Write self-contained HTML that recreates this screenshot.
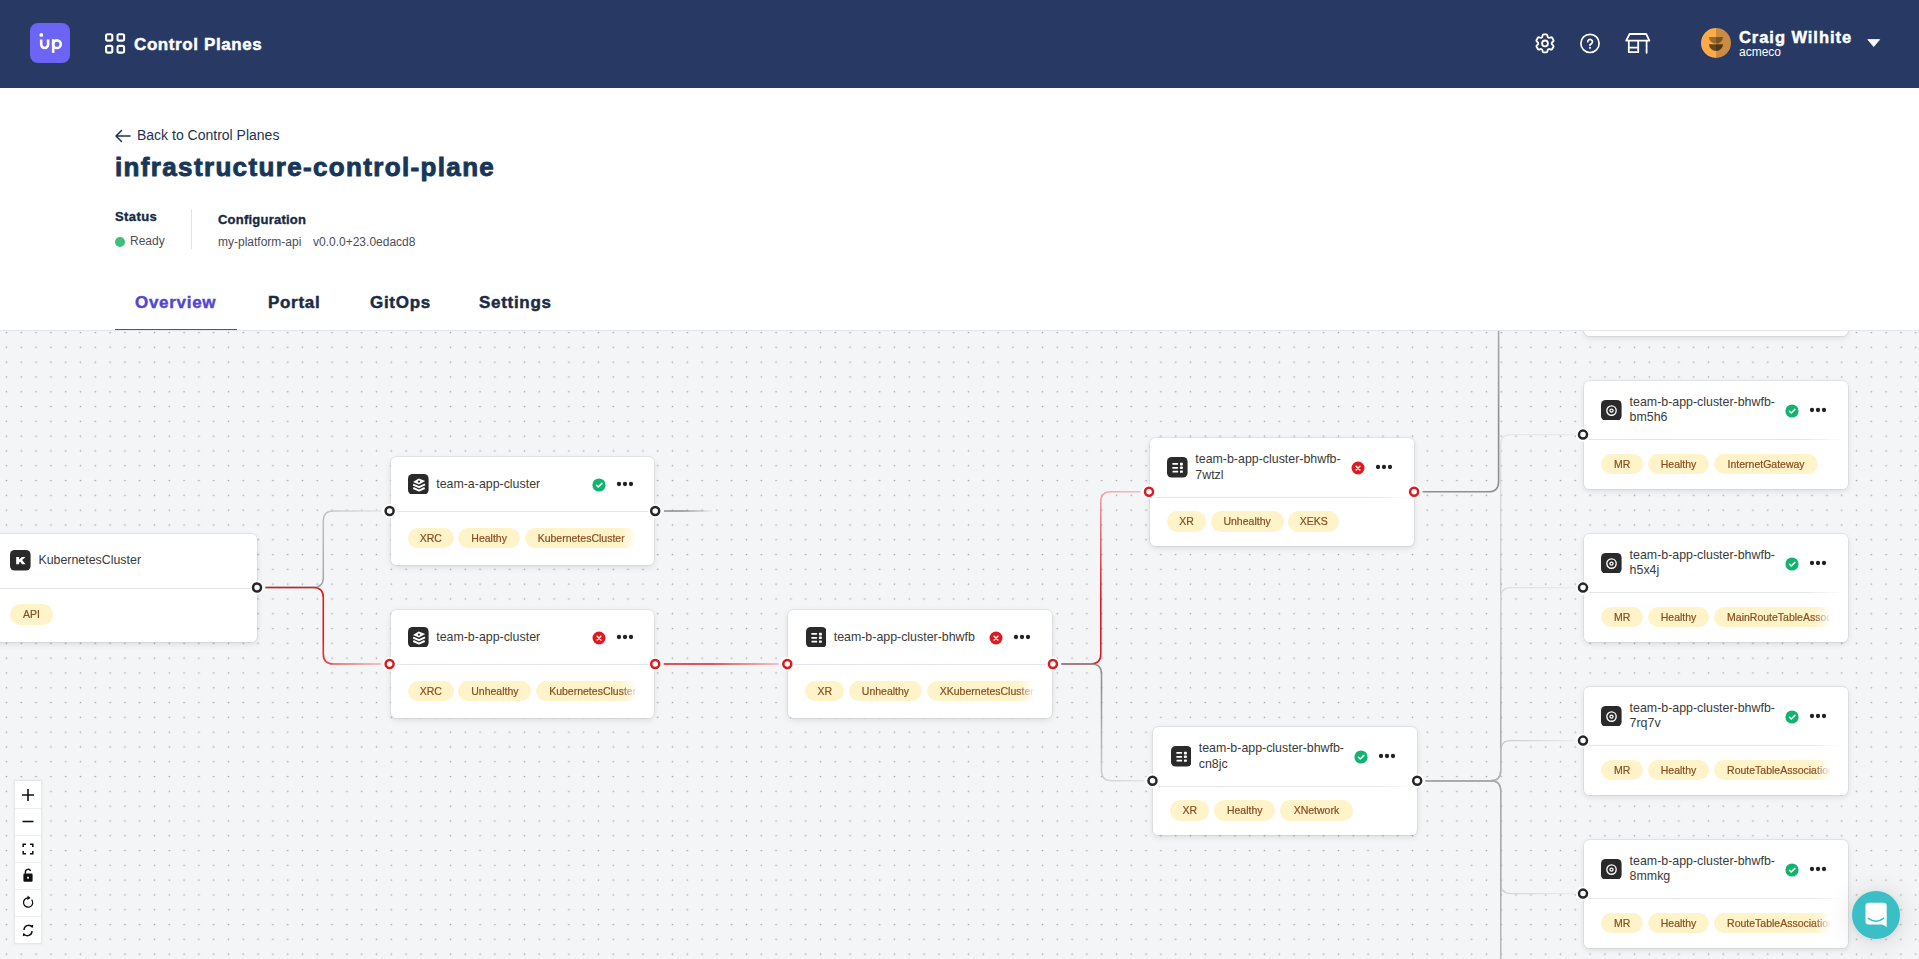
<!DOCTYPE html>
<html><head><meta charset="utf-8">
<style>
*{box-sizing:border-box;margin:0;padding:0}
html,body{width:1919px;height:959px;overflow:hidden;background:#fff;font-family:"Liberation Sans",sans-serif}
.abs{position:absolute;white-space:nowrap}
#hdr{position:absolute;left:0;top:0;width:1919px;height:88px;background:#283a64}
#logo{left:30px;top:23px;width:40px;height:40px;border-radius:8px;background:#6c64f4}
.htxt{color:#fff;font-weight:bold;white-space:nowrap;-webkit-text-stroke:0.45px #fff}
#canvas{position:absolute;left:0;top:331px;width:1919px;height:628px;background:#f4f5f7;overflow:hidden}
#cborder{left:0;top:330px;width:1919px;height:1px;background:#e3e5ea}
.tab{font-size:17px;font-weight:bold;letter-spacing:0.7px;color:#1a2b45;-webkit-text-stroke:0.45px currentColor;line-height:20px;top:293px!important}

.card{position:absolute;width:263.8px;height:108px;background:#fff;border-radius:5.5px;box-shadow:0 0 0 1px rgba(0,0,0,0.05),0 2px 6px rgba(0,0,0,0.11)}
.card .ico{position:absolute;width:20.6px;height:20.6px}
.card .ico svg,.card .st svg,.card .dots svg{display:block}
.card .ttl{position:absolute;font-size:12.4px;line-height:15.3px;color:#3a3a3a;white-space:nowrap}
.card .st{position:absolute;width:14px;height:14px}
.card .dots{position:absolute;width:18px;height:6px}
.card .div{position:absolute;left:0;width:263.8px;height:1px;background:#e2e5ec}
.card .div.fade{left:5px;width:254px;background:linear-gradient(90deg,#e2e5ec 85%,rgba(226,229,236,0))}
.card .pills{position:absolute;left:17.3px;width:230px;height:21px;white-space:nowrap;overflow:hidden;-webkit-mask-image:linear-gradient(90deg,#000 calc(100% - 17px),transparent 100%);mask-image:linear-gradient(90deg,#000 calc(100% - 17px),transparent 100%)}
.pill{display:inline-block;text-align:center;height:20.4px;line-height:20.4px;padding:0 13px;margin-right:4.8px;border-radius:10.2px;background:#fef3c9;color:#8b4d1f;font-size:10.5px;-webkit-text-stroke:0.2px #8b4d1f;vertical-align:top}
</style></head><body>
<div id="hdr">
  <div id="logo" class="abs"></div>
  <svg class="abs" style="left:0;top:0" width="1919" height="88" fill="none" stroke="#fff">
    <!-- logo glyph -->
    <circle cx="41.3" cy="34.9" r="1.9" fill="#fff" stroke="none"/>
    <path d="M41.2 39.4V44.6A3.45 3.45 0 0 0 48.1 44.6V39.4" stroke-width="2.6"/>
    <path d="M53.2 39.2V52.8" stroke-width="2.6"/>
    <circle cx="56.9" cy="44.2" r="3.85" stroke-width="2.6"/>
    <!-- grid icon -->
    <rect x="106.1" y="34.2" width="6.2" height="6.4" rx="1.6" stroke-width="2.1"/>
    <rect x="117.5" y="34.2" width="6.6" height="6.4" rx="1.6" stroke-width="2.1"/>
    <rect x="106.1" y="45.9" width="6.2" height="6.7" rx="1.6" stroke-width="2.1"/>
    <rect x="117.5" y="45.9" width="6.6" height="6.7" rx="1.6" stroke-width="2.1"/>
    <!-- gear -->
    <g transform="translate(1533 31.4)" stroke-width="1.85" stroke-linecap="round" stroke-linejoin="round">
      <path d="M9.594 3.94c.09-.542.56-.94 1.11-.94h2.593c.55 0 1.02.398 1.11.94l.213 1.281c.063.374.313.686.645.87.074.04.147.083.22.127.325.196.72.257 1.075.124l1.217-.456a1.125 1.125 0 0 1 1.37.49l1.296 2.247a1.125 1.125 0 0 1-.26 1.431l-1.003.827c-.293.241-.438.613-.43.992a7.723 7.723 0 0 1 0 .255c-.008.378.137.75.43.991l1.004.827c.424.35.534.955.26 1.43l-1.298 2.247a1.125 1.125 0 0 1-1.369.491l-1.217-.456c-.355-.133-.75-.072-1.076.124a6.47 6.47 0 0 1-.22.128c-.331.183-.581.495-.644.869l-.213 1.281c-.09.543-.56.94-1.110.94h-2.594c-.55 0-1.019-.398-1.11-.94l-.213-1.281c-.062-.374-.312-.686-.644-.87a6.52 6.52 0 0 1-.22-.127c-.325-.196-.72-.257-1.076-.124l-1.217.456a1.125 1.125 0 0 1-1.369-.49l-1.297-2.247a1.125 1.125 0 0 1 .26-1.431l1.004-.827c.292-.24.437-.613.43-.991a6.932 6.932 0 0 1 0-.255c.007-.38-.138-.751-.43-.992l-1.004-.827a1.125 1.125 0 0 1-.26-1.43l1.297-2.247a1.125 1.125 0 0 1 1.37-.491l1.216.456c.356.133.751.072 1.076-.124.072-.044.146-.086.22-.128.332-.183.582-.495.644-.869l.214-1.28Z"/>
      <circle cx="12" cy="12" r="2.9"/>
    </g>
    <!-- help -->
    <g transform="translate(1578 31.4)" stroke-width="1.7" stroke-linecap="round" stroke-linejoin="round">
      <path d="M9.75 10.4A2.35 2.35 0 1 1 13.4 12.3Q12 13 12 13.9V13.3"/>
      <circle cx="12" cy="12" r="9.1"/>
      <rect x="11.05" y="15.5" width="1.9" height="1.75" rx="0.3" fill="#fff" stroke="none"/>
    </g>
    <!-- store -->
    <g stroke-width="1.8" stroke-linejoin="round" stroke-linecap="round">
      <path d="M1629.6 34H1646.2L1649.4 40.6H1626.2Z"/>
      <path d="M1628.8 41.2V52.2H1638.2V41.2M1628.8 47.6H1638.2M1646.6 41.2V52.8"/>
    </g>
    <!-- avatar -->
    <clipPath id="avc"><circle cx="1716" cy="43" r="15"/></clipPath>
    <g clip-path="url(#avc)" stroke="none">
      <rect x="1700" y="27" width="16" height="32" fill="#fdaa4b"/>
      <rect x="1716" y="27" width="16" height="32" fill="#c98c40"/>
      <path d="M1709 37H1716V43.6A7 6.6 0 0 1 1709 37Z" fill="#98692c"/>
      <path d="M1716 37H1723A7 6.6 0 0 1 1716 43.6Z" fill="#7b5424"/>
      <path d="M1709 44.2H1716V51A7 6.8 0 0 1 1709 44.2Z" fill="#67461d"/>
      <path d="M1716 44.2H1723A7 6.8 0 0 1 1716 51Z" fill="#4e3516"/>
    </g>
    <!-- caret -->
    <path d="M1867.8 39.6H1879.6L1873.7 46.6Z" fill="#fff" stroke="#fff" stroke-width="0.8" stroke-linejoin="round"/>
  </svg>
  <div class="abs htxt" style="left:134px;top:35px;font-size:17px;letter-spacing:0.6px">Control Planes</div>
  <div class="abs htxt" style="left:1739px;top:28px;font-size:16.5px;letter-spacing:0.95px">Craig Wilhite</div>
  <div class="abs" style="left:1739px;top:45px;font-size:12px;color:#fff">acmeco</div>
</div>

<!-- page top -->
<svg class="abs" style="left:114px;top:128px" width="18" height="16" fill="none" stroke="#1c3353" stroke-width="1.5" stroke-linecap="round" stroke-linejoin="round"><path d="M16 8H2M7.5 2.5L2 8L7.5 13.5"/></svg>
<div class="abs" style="left:137px;top:127px;font-size:14px;color:#1c3353">Back to Control Planes</div>
<div class="abs" style="left:115px;top:152px;font-size:26px;font-weight:bold;letter-spacing:1.35px;color:#173659;-webkit-text-stroke:0.9px #173659">infrastructure-control-plane</div>

<div class="abs" style="left:115px;top:209px;font-size:13px;font-weight:bold;letter-spacing:0.4px;color:#152a45;-webkit-text-stroke:0.35px #152a45">Status</div>
<div class="abs" style="left:115px;top:237px;width:10px;height:10px;border-radius:50%;background:#3ec07a"></div>
<div class="abs" style="left:130px;top:234px;font-size:12px;color:#4d4d58">Ready</div>
<div class="abs" style="left:191px;top:209px;width:1px;height:40px;background:#e2e2e2"></div>
<div class="abs" style="left:218px;top:212px;font-size:13px;font-weight:bold;letter-spacing:0.23px;color:#152a45;-webkit-text-stroke:0.35px #152a45">Configuration</div>
<div class="abs" style="left:218px;top:235px;font-size:12px;color:#4d4d58">my-platform-api</div>
<div class="abs" style="left:313px;top:235px;font-size:12px;color:#4d4d58">v0.0.0+23.0edacd8</div>

<div class="abs tab" style="left:135px;top:292px;color:#5148cf">Overview</div>
<div class="abs tab" style="left:268px;top:292px">Portal</div>
<div class="abs tab" style="left:370px;top:292px">GitOps</div>
<div class="abs tab" style="left:479px;top:292px">Settings</div>
<div class="abs" style="left:115px;top:329px;width:122px;height:1px;background:#5148cf"></div>

<div id="cborder" class="abs"></div>
<div id="canvas"><svg class="abs" style="left:0;top:0" width="1919" height="628"><defs><pattern id="dots" patternUnits="userSpaceOnUse" x="-0.9" y="-5.9" width="14.8" height="14.8"><circle cx="7.4" cy="7.4" r="0.85" fill="#a9a9ad"/></pattern></defs><rect width="1919" height="628" fill="url(#dots)"/></svg><svg class="abs" style="left:0;top:0" width="1919" height="628"><defs><linearGradient id="g0" gradientUnits="userSpaceOnUse" x1="265.5" y1="587.5" x2="381.1" y2="511.0"><stop offset="0" stop-color="#9a9a9a" stop-opacity="1"/><stop offset="0.25" stop-color="#9a9a9a" stop-opacity="1"/><stop offset="1" stop-color="#e6e6e6" stop-opacity="1"/></linearGradient><linearGradient id="g1" gradientUnits="userSpaceOnUse" x1="265.5" y1="587.5" x2="381.1" y2="664.0"><stop offset="0" stop-color="#dc1a1f" stop-opacity="1"/><stop offset="0.55" stop-color="#dc1a1f" stop-opacity="1"/><stop offset="1" stop-color="#f3b3b5" stop-opacity="1"/></linearGradient><linearGradient id="g2" gradientUnits="userSpaceOnUse" x1="663.7" y1="664.0" x2="778.8" y2="664.0"><stop offset="0" stop-color="#dc1a1f" stop-opacity="1"/><stop offset="0.40" stop-color="#dc1a1f" stop-opacity="1"/><stop offset="1" stop-color="#f2b3b5" stop-opacity="1"/></linearGradient><linearGradient id="g3" gradientUnits="userSpaceOnUse" x1="664.0" y1="511.0" x2="714.0" y2="511.0"><stop offset="0" stop-color="#8a8a8a" stop-opacity="1"/><stop offset="0.35" stop-color="#8a8a8a" stop-opacity="1"/><stop offset="1" stop-color="#8a8a8a" stop-opacity="0"/></linearGradient><linearGradient id="g4" gradientUnits="userSpaceOnUse" x1="1061.4" y1="664.0" x2="1140.5" y2="491.8"><stop offset="0" stop-color="#dc1a1f" stop-opacity="1"/><stop offset="0.40" stop-color="#dc1a1f" stop-opacity="1"/><stop offset="1" stop-color="#f4bcbd" stop-opacity="1"/></linearGradient><linearGradient id="g5" gradientUnits="userSpaceOnUse" x1="1061.4" y1="664.0" x2="1144.0" y2="780.7"><stop offset="0" stop-color="#8f8f8f" stop-opacity="1"/><stop offset="0.30" stop-color="#8f8f8f" stop-opacity="1"/><stop offset="1" stop-color="#e6e6e6" stop-opacity="1"/></linearGradient><linearGradient id="g6" gradientUnits="userSpaceOnUse" x1="1422.6" y1="491.8" x2="1574.5" y2="281.0"><stop offset="0" stop-color="#8f8f8f" stop-opacity="1"/><stop offset="0.40" stop-color="#8f8f8f" stop-opacity="1"/><stop offset="1" stop-color="#c8c8c8" stop-opacity="1"/></linearGradient><linearGradient id="g7" gradientUnits="userSpaceOnUse" x1="1425.7" y1="780.7" x2="1574.5" y2="434.6"><stop offset="0" stop-color="#a8a8a8" stop-opacity="0.75"/><stop offset="0.30" stop-color="#a8a8a8" stop-opacity="0.75"/><stop offset="1" stop-color="#ebebeb" stop-opacity="0.9"/></linearGradient><linearGradient id="g8" gradientUnits="userSpaceOnUse" x1="1425.7" y1="780.7" x2="1574.5" y2="587.6"><stop offset="0" stop-color="#a8a8a8" stop-opacity="0.75"/><stop offset="0.30" stop-color="#a8a8a8" stop-opacity="0.75"/><stop offset="1" stop-color="#ebebeb" stop-opacity="0.9"/></linearGradient><linearGradient id="g9" gradientUnits="userSpaceOnUse" x1="1425.7" y1="780.7" x2="1574.5" y2="740.6"><stop offset="0" stop-color="#a8a8a8" stop-opacity="0.75"/><stop offset="0.30" stop-color="#a8a8a8" stop-opacity="0.75"/><stop offset="1" stop-color="#ebebeb" stop-opacity="0.9"/></linearGradient><linearGradient id="g10" gradientUnits="userSpaceOnUse" x1="1425.7" y1="780.7" x2="1574.5" y2="893.6"><stop offset="0" stop-color="#a8a8a8" stop-opacity="0.75"/><stop offset="0.30" stop-color="#a8a8a8" stop-opacity="0.75"/><stop offset="1" stop-color="#ebebeb" stop-opacity="0.9"/></linearGradient><linearGradient id="g11" gradientUnits="userSpaceOnUse" x1="1425.7" y1="780.7" x2="1574.5" y2="1046.6"><stop offset="0" stop-color="#a8a8a8" stop-opacity="0.75"/><stop offset="0.30" stop-color="#a8a8a8" stop-opacity="0.75"/><stop offset="1" stop-color="#ebebeb" stop-opacity="0.9"/></linearGradient><linearGradient id="g12" gradientUnits="userSpaceOnUse" x1="1425.7" y1="780.7" x2="1574.5" y2="1199.6"><stop offset="0" stop-color="#a8a8a8" stop-opacity="0.75"/><stop offset="0.30" stop-color="#a8a8a8" stop-opacity="0.75"/><stop offset="1" stop-color="#ebebeb" stop-opacity="0.9"/></linearGradient></defs><g transform="translate(0 -331)"><path d="M265.5 587.5H313.3Q323.3 587.5 323.3 577.5V521.0Q323.3 511.0 333.3 511.0H381.1" stroke="url(#g0)" stroke-width="1.50" fill="none"/><path d="M265.5 587.5H313.3Q323.3 587.5 323.3 597.5V654.0Q323.3 664.0 333.3 664.0H381.1" stroke="url(#g1)" stroke-width="1.60" fill="none"/><path d="M663.7 664.0H778.8" stroke="url(#g2)" stroke-width="1.60" fill="none"/><path d="M664.0 511.0H714.0" stroke="url(#g3)" stroke-width="1.60" fill="none"/><path d="M1061.4 664.0H1090.8Q1100.8 664.0 1100.8 654.0V501.8Q1100.8 491.8 1110.8 491.8H1140.5" stroke="url(#g4)" stroke-width="1.60" fill="none"/><path d="M1061.4 664.0H1091.5Q1101.5 664.0 1101.5 674.0V770.7Q1101.5 780.7 1111.5 780.7H1144.0" stroke="url(#g5)" stroke-width="1.50" fill="none"/><path d="M1422.6 491.8H1488.6Q1498.6 491.8 1498.6 481.8V291.0Q1498.6 281.0 1508.6 281.0H1574.5" stroke="url(#g6)" stroke-width="1.60" fill="none"/><path d="M1425.7 780.7H1490.7Q1500.7 780.7 1500.7 770.7V444.6Q1500.7 434.6 1510.7 434.6H1574.5" stroke="url(#g7)" stroke-width="1.40" fill="none"/><path d="M1425.7 780.7H1490.7Q1500.7 780.7 1500.7 770.7V597.6Q1500.7 587.6 1510.7 587.6H1574.5" stroke="url(#g8)" stroke-width="1.40" fill="none"/><path d="M1425.7 780.7H1490.7Q1500.7 780.7 1500.7 770.7V750.6Q1500.7 740.6 1510.7 740.6H1574.5" stroke="url(#g9)" stroke-width="1.40" fill="none"/><path d="M1425.7 780.7H1490.7Q1500.7 780.7 1500.7 790.7V883.6Q1500.7 893.6 1510.7 893.6H1574.5" stroke="url(#g10)" stroke-width="1.40" fill="none"/><path d="M1425.7 780.7H1490.7Q1500.7 780.7 1500.7 790.7V1036.6Q1500.7 1046.6 1510.7 1046.6H1574.5" stroke="url(#g11)" stroke-width="1.40" fill="none"/><path d="M1425.7 780.7H1490.7Q1500.7 780.7 1500.7 790.7V1189.6Q1500.7 1199.6 1510.7 1199.6H1574.5" stroke="url(#g12)" stroke-width="1.40" fill="none"/></g></svg><div class="abs" style="left:0;top:-331px;width:1919px;height:959px"><div class="card" style="left:-7.1px;top:533.8px"><div class="ico" style="left:17.4px;top:16.6px"><svg width="20.6" height="20.6" viewBox="0 0 20 20"><rect width="20" height="20" rx="4.5" fill="#2a2a2a"/><path d="M6 6.7H8.9V9.3L11.6 6.7H15.1L11.8 9.8L15.1 13.9H11.7L9.9 11.3L8.9 12.2V13.9H6Z" fill="#fff"/></svg></div><div class="ttl" style="left:45.5px;top:19.6px">KubernetesCluster</div><div class="div " style="top:54.0px"></div><div class="pills" style="top:70.6px"><span class="pill" style="width:42.3px;padding:0">API</span></div></div><div class="card" style="left:390.7px;top:457.0px"><div class="ico" style="left:17.4px;top:16.6px"><svg width="20.6" height="20.6" viewBox="0 0 20 20"><rect width="20" height="20" rx="4.5" fill="#2a2a2a"/><path d="M4.9 7.8L10.4 4.4L16.7 6.8L10.7 10.1Z" fill="#fff"/><circle cx="10.6" cy="7.3" r="1.1" fill="#2a2a2a"/><path d="M5 10.3L10.7 12.8L16.6 10" stroke="#fff" stroke-width="1.9" fill="none" stroke-linejoin="round"/><path d="M5.1 13.6L10.7 16.1L16.2 13.6" stroke="#fff" stroke-width="1.9" fill="none" stroke-linejoin="round"/></svg></div><div class="ttl" style="left:45.5px;top:19.6px">team-a-app-cluster</div><div class="st" style="left:201px;top:21.0px"><svg width="14" height="14" viewBox="0 0 14 14"><circle cx="7" cy="7" r="6.6" fill="#10b46f"/><path d="M4.5 7.3L6.2 9L9.9 5.4" stroke="#fff" stroke-width="1.5" fill="none" stroke-linecap="round" stroke-linejoin="round"/></svg></div><div class="dots" style="left:225px;top:24.0px"><svg width="18" height="6" viewBox="0 0 18 6"><circle cx="3" cy="3" r="2.15" fill="#222"/><circle cx="9" cy="3" r="2.15" fill="#222"/><circle cx="15" cy="3" r="2.15" fill="#222"/></svg></div><div class="div " style="top:54.0px"></div><div class="pills" style="top:70.6px"><span class="pill" style="width:45.6px;padding:0">XRC</span><span class="pill" style="width:61.5px;padding:0">Healthy</span><span class="pill">KubernetesCluster</span></div></div><div class="card" style="left:390.7px;top:610.0px"><div class="ico" style="left:17.4px;top:16.6px"><svg width="20.6" height="20.6" viewBox="0 0 20 20"><rect width="20" height="20" rx="4.5" fill="#2a2a2a"/><path d="M4.9 7.8L10.4 4.4L16.7 6.8L10.7 10.1Z" fill="#fff"/><circle cx="10.6" cy="7.3" r="1.1" fill="#2a2a2a"/><path d="M5 10.3L10.7 12.8L16.6 10" stroke="#fff" stroke-width="1.9" fill="none" stroke-linejoin="round"/><path d="M5.1 13.6L10.7 16.1L16.2 13.6" stroke="#fff" stroke-width="1.9" fill="none" stroke-linejoin="round"/></svg></div><div class="ttl" style="left:45.5px;top:19.6px">team-b-app-cluster</div><div class="st" style="left:201px;top:21.0px"><svg width="14" height="14" viewBox="0 0 14 14"><circle cx="7" cy="7" r="6.5" fill="#dc1a1f"/><path d="M5.1 5.2L8.9 8.9M8.9 5.2L5.1 8.9" stroke="#fff" stroke-width="1.4" fill="none" stroke-linecap="round"/></svg></div><div class="dots" style="left:225px;top:24.0px"><svg width="18" height="6" viewBox="0 0 18 6"><circle cx="3" cy="3" r="2.15" fill="#222"/><circle cx="9" cy="3" r="2.15" fill="#222"/><circle cx="15" cy="3" r="2.15" fill="#222"/></svg></div><div class="div " style="top:54.0px"></div><div class="pills" style="top:70.6px"><span class="pill" style="width:45.6px;padding:0">XRC</span><span class="pill" style="width:73.0px;padding:0">Unhealthy</span><span class="pill">KubernetesCluster</span></div></div><div class="card" style="left:788.2px;top:610.0px"><div class="ico" style="left:17.4px;top:16.6px"><svg width="20.6" height="20.6" viewBox="0 0 20 20"><rect width="20" height="20" rx="4.5" fill="#2a2a2a"/><rect x="5.1" y="5.8" width="5.7" height="1.7" rx="0.6" fill="#fff"/><rect x="5.1" y="9.6" width="5.7" height="1.7" rx="0.6" fill="#fff"/><rect x="5.4" y="13.3" width="5.4" height="1.7" rx="0.3" fill="#fff"/><rect x="12.6" y="5.6" width="2.8" height="2.6" rx="0.6" fill="#fff"/><rect x="12.6" y="9.3" width="2.8" height="2.4" rx="0.7" fill="#fff"/><rect x="12.6" y="13.1" width="2.8" height="2.1" rx="0.5" fill="#fff"/></svg></div><div class="ttl" style="left:45.5px;top:19.6px">team-b-app-cluster-bhwfb</div><div class="st" style="left:201px;top:21.0px"><svg width="14" height="14" viewBox="0 0 14 14"><circle cx="7" cy="7" r="6.5" fill="#dc1a1f"/><path d="M5.1 5.2L8.9 8.9M8.9 5.2L5.1 8.9" stroke="#fff" stroke-width="1.4" fill="none" stroke-linecap="round"/></svg></div><div class="dots" style="left:225px;top:24.0px"><svg width="18" height="6" viewBox="0 0 18 6"><circle cx="3" cy="3" r="2.15" fill="#222"/><circle cx="9" cy="3" r="2.15" fill="#222"/><circle cx="15" cy="3" r="2.15" fill="#222"/></svg></div><div class="div " style="top:54.0px"></div><div class="pills" style="top:70.6px"><span class="pill" style="width:38.7px;padding:0">XR</span><span class="pill" style="width:73.0px;padding:0">Unhealthy</span><span class="pill">XKubernetesCluster</span></div></div><div class="card" style="left:1149.8px;top:438.0px"><div class="ico" style="left:17.4px;top:19.0px"><svg width="20.6" height="20.6" viewBox="0 0 20 20"><rect width="20" height="20" rx="4.5" fill="#2a2a2a"/><rect x="5.1" y="5.8" width="5.7" height="1.7" rx="0.6" fill="#fff"/><rect x="5.1" y="9.6" width="5.7" height="1.7" rx="0.6" fill="#fff"/><rect x="5.4" y="13.3" width="5.4" height="1.7" rx="0.3" fill="#fff"/><rect x="12.6" y="5.6" width="2.8" height="2.6" rx="0.6" fill="#fff"/><rect x="12.6" y="9.3" width="2.8" height="2.4" rx="0.7" fill="#fff"/><rect x="12.6" y="13.1" width="2.8" height="2.1" rx="0.5" fill="#fff"/></svg></div><div class="ttl" style="left:45.5px;top:14.3px">team-b-app-cluster-bhwfb-<br>7wtzl</div><div class="st" style="left:201px;top:23.3px"><svg width="14" height="14" viewBox="0 0 14 14"><circle cx="7" cy="7" r="6.5" fill="#dc1a1f"/><path d="M5.1 5.2L8.9 8.9M8.9 5.2L5.1 8.9" stroke="#fff" stroke-width="1.4" fill="none" stroke-linecap="round"/></svg></div><div class="dots" style="left:225px;top:26.4px"><svg width="18" height="6" viewBox="0 0 18 6"><circle cx="3" cy="3" r="2.15" fill="#222"/><circle cx="9" cy="3" r="2.15" fill="#222"/><circle cx="15" cy="3" r="2.15" fill="#222"/></svg></div><div class="div fade" style="top:58.5px"></div><div class="pills" style="top:73.2px"><span class="pill" style="width:38.7px;padding:0">XR</span><span class="pill" style="width:73.0px;padding:0">Unhealthy</span><span class="pill" style="width:50.9px;padding:0">XEKS</span></div></div><div class="card" style="left:1153.2px;top:727.0px"><div class="ico" style="left:17.4px;top:19.0px"><svg width="20.6" height="20.6" viewBox="0 0 20 20"><rect width="20" height="20" rx="4.5" fill="#2a2a2a"/><rect x="5.1" y="5.8" width="5.7" height="1.7" rx="0.6" fill="#fff"/><rect x="5.1" y="9.6" width="5.7" height="1.7" rx="0.6" fill="#fff"/><rect x="5.4" y="13.3" width="5.4" height="1.7" rx="0.3" fill="#fff"/><rect x="12.6" y="5.6" width="2.8" height="2.6" rx="0.6" fill="#fff"/><rect x="12.6" y="9.3" width="2.8" height="2.4" rx="0.7" fill="#fff"/><rect x="12.6" y="13.1" width="2.8" height="2.1" rx="0.5" fill="#fff"/></svg></div><div class="ttl" style="left:45.5px;top:14.3px">team-b-app-cluster-bhwfb-<br>cn8jc</div><div class="st" style="left:201px;top:23.3px"><svg width="14" height="14" viewBox="0 0 14 14"><circle cx="7" cy="7" r="6.6" fill="#10b46f"/><path d="M4.5 7.3L6.2 9L9.9 5.4" stroke="#fff" stroke-width="1.5" fill="none" stroke-linecap="round" stroke-linejoin="round"/></svg></div><div class="dots" style="left:225px;top:26.4px"><svg width="18" height="6" viewBox="0 0 18 6"><circle cx="3" cy="3" r="2.15" fill="#222"/><circle cx="9" cy="3" r="2.15" fill="#222"/><circle cx="15" cy="3" r="2.15" fill="#222"/></svg></div><div class="div fade" style="top:58.5px"></div><div class="pills" style="top:73.2px"><span class="pill" style="width:38.7px;padding:0">XR</span><span class="pill" style="width:61.5px;padding:0">Healthy</span><span class="pill" style="width:72.3px;padding:0">XNetwork</span></div></div><div class="card" style="left:1584.1px;top:227.8px"><div class="ico" style="left:17.4px;top:19.0px"><svg width="20.6" height="20.6" viewBox="0 0 20 20"><rect width="20" height="20" rx="4.5" fill="#2a2a2a"/><circle cx="10.2" cy="10.3" r="4.55" stroke="#fff" stroke-width="1.3" fill="none"/><circle cx="10.2" cy="10.3" r="1.55" stroke="#fff" stroke-width="1.2" fill="none"/></svg></div><div class="ttl" style="left:45.5px;top:14.3px">team-b-app-cluster-bhwfb-<br>xxxxx</div><div class="st" style="left:201px;top:23.3px"><svg width="14" height="14" viewBox="0 0 14 14"><circle cx="7" cy="7" r="6.6" fill="#10b46f"/><path d="M4.5 7.3L6.2 9L9.9 5.4" stroke="#fff" stroke-width="1.5" fill="none" stroke-linecap="round" stroke-linejoin="round"/></svg></div><div class="dots" style="left:225px;top:26.4px"><svg width="18" height="6" viewBox="0 0 18 6"><circle cx="3" cy="3" r="2.15" fill="#222"/><circle cx="9" cy="3" r="2.15" fill="#222"/><circle cx="15" cy="3" r="2.15" fill="#222"/></svg></div><div class="div fade" style="top:58.5px"></div><div class="pills" style="top:73.2px"><span class="pill" style="width:41.6px;padding:0">MR</span><span class="pill" style="width:61.5px;padding:0">Healthy</span><span class="pill">VPC</span></div></div><div class="card" style="left:1584.1px;top:380.8px"><div class="ico" style="left:17.4px;top:19.0px"><svg width="20.6" height="20.6" viewBox="0 0 20 20"><rect width="20" height="20" rx="4.5" fill="#2a2a2a"/><circle cx="10.2" cy="10.3" r="4.55" stroke="#fff" stroke-width="1.3" fill="none"/><circle cx="10.2" cy="10.3" r="1.55" stroke="#fff" stroke-width="1.2" fill="none"/></svg></div><div class="ttl" style="left:45.5px;top:14.3px">team-b-app-cluster-bhwfb-<br>bm5h6</div><div class="st" style="left:201px;top:23.3px"><svg width="14" height="14" viewBox="0 0 14 14"><circle cx="7" cy="7" r="6.6" fill="#10b46f"/><path d="M4.5 7.3L6.2 9L9.9 5.4" stroke="#fff" stroke-width="1.5" fill="none" stroke-linecap="round" stroke-linejoin="round"/></svg></div><div class="dots" style="left:225px;top:26.4px"><svg width="18" height="6" viewBox="0 0 18 6"><circle cx="3" cy="3" r="2.15" fill="#222"/><circle cx="9" cy="3" r="2.15" fill="#222"/><circle cx="15" cy="3" r="2.15" fill="#222"/></svg></div><div class="div fade" style="top:58.5px"></div><div class="pills" style="top:73.2px"><span class="pill" style="width:41.6px;padding:0">MR</span><span class="pill" style="width:61.5px;padding:0">Healthy</span><span class="pill" style="width:104.0px;padding:0">InternetGateway</span></div></div><div class="card" style="left:1584.1px;top:533.8px"><div class="ico" style="left:17.4px;top:19.0px"><svg width="20.6" height="20.6" viewBox="0 0 20 20"><rect width="20" height="20" rx="4.5" fill="#2a2a2a"/><circle cx="10.2" cy="10.3" r="4.55" stroke="#fff" stroke-width="1.3" fill="none"/><circle cx="10.2" cy="10.3" r="1.55" stroke="#fff" stroke-width="1.2" fill="none"/></svg></div><div class="ttl" style="left:45.5px;top:14.3px">team-b-app-cluster-bhwfb-<br>h5x4j</div><div class="st" style="left:201px;top:23.3px"><svg width="14" height="14" viewBox="0 0 14 14"><circle cx="7" cy="7" r="6.6" fill="#10b46f"/><path d="M4.5 7.3L6.2 9L9.9 5.4" stroke="#fff" stroke-width="1.5" fill="none" stroke-linecap="round" stroke-linejoin="round"/></svg></div><div class="dots" style="left:225px;top:26.4px"><svg width="18" height="6" viewBox="0 0 18 6"><circle cx="3" cy="3" r="2.15" fill="#222"/><circle cx="9" cy="3" r="2.15" fill="#222"/><circle cx="15" cy="3" r="2.15" fill="#222"/></svg></div><div class="div fade" style="top:58.5px"></div><div class="pills" style="top:73.2px"><span class="pill" style="width:41.6px;padding:0">MR</span><span class="pill" style="width:61.5px;padding:0">Healthy</span><span class="pill">MainRouteTableAssociation</span></div></div><div class="card" style="left:1584.1px;top:686.8px"><div class="ico" style="left:17.4px;top:19.0px"><svg width="20.6" height="20.6" viewBox="0 0 20 20"><rect width="20" height="20" rx="4.5" fill="#2a2a2a"/><circle cx="10.2" cy="10.3" r="4.55" stroke="#fff" stroke-width="1.3" fill="none"/><circle cx="10.2" cy="10.3" r="1.55" stroke="#fff" stroke-width="1.2" fill="none"/></svg></div><div class="ttl" style="left:45.5px;top:14.3px">team-b-app-cluster-bhwfb-<br>7rq7v</div><div class="st" style="left:201px;top:23.3px"><svg width="14" height="14" viewBox="0 0 14 14"><circle cx="7" cy="7" r="6.6" fill="#10b46f"/><path d="M4.5 7.3L6.2 9L9.9 5.4" stroke="#fff" stroke-width="1.5" fill="none" stroke-linecap="round" stroke-linejoin="round"/></svg></div><div class="dots" style="left:225px;top:26.4px"><svg width="18" height="6" viewBox="0 0 18 6"><circle cx="3" cy="3" r="2.15" fill="#222"/><circle cx="9" cy="3" r="2.15" fill="#222"/><circle cx="15" cy="3" r="2.15" fill="#222"/></svg></div><div class="div fade" style="top:58.5px"></div><div class="pills" style="top:73.2px"><span class="pill" style="width:41.6px;padding:0">MR</span><span class="pill" style="width:61.5px;padding:0">Healthy</span><span class="pill">RouteTableAssociation</span></div></div><div class="card" style="left:1584.1px;top:839.8px"><div class="ico" style="left:17.4px;top:19.0px"><svg width="20.6" height="20.6" viewBox="0 0 20 20"><rect width="20" height="20" rx="4.5" fill="#2a2a2a"/><circle cx="10.2" cy="10.3" r="4.55" stroke="#fff" stroke-width="1.3" fill="none"/><circle cx="10.2" cy="10.3" r="1.55" stroke="#fff" stroke-width="1.2" fill="none"/></svg></div><div class="ttl" style="left:45.5px;top:14.3px">team-b-app-cluster-bhwfb-<br>8mmkg</div><div class="st" style="left:201px;top:23.3px"><svg width="14" height="14" viewBox="0 0 14 14"><circle cx="7" cy="7" r="6.6" fill="#10b46f"/><path d="M4.5 7.3L6.2 9L9.9 5.4" stroke="#fff" stroke-width="1.5" fill="none" stroke-linecap="round" stroke-linejoin="round"/></svg></div><div class="dots" style="left:225px;top:26.4px"><svg width="18" height="6" viewBox="0 0 18 6"><circle cx="3" cy="3" r="2.15" fill="#222"/><circle cx="9" cy="3" r="2.15" fill="#222"/><circle cx="15" cy="3" r="2.15" fill="#222"/></svg></div><div class="div fade" style="top:58.5px"></div><div class="pills" style="top:73.2px"><span class="pill" style="width:41.6px;padding:0">MR</span><span class="pill" style="width:61.5px;padding:0">Healthy</span><span class="pill">RouteTableAssociation</span></div></div></div><svg class="abs" style="left:0;top:0" width="1919" height="628"><g transform="translate(0 -331)"><circle cx="257.0" cy="587.5" r="7.2" fill="#fff"/><circle cx="257.0" cy="587.5" r="4.0" fill="#fff" stroke="#262626" stroke-width="2.5"/><circle cx="389.6" cy="511.0" r="7.2" fill="#fff"/><circle cx="389.6" cy="511.0" r="4.0" fill="#fff" stroke="#262626" stroke-width="2.5"/><circle cx="655.2" cy="511.0" r="7.2" fill="#fff"/><circle cx="655.2" cy="511.0" r="4.0" fill="#fff" stroke="#262626" stroke-width="2.5"/><circle cx="389.6" cy="664.0" r="7.2" fill="#fff"/><circle cx="389.6" cy="664.0" r="4.0" fill="#fff" stroke="#dc1a1f" stroke-width="2.5"/><circle cx="655.2" cy="664.0" r="7.2" fill="#fff"/><circle cx="655.2" cy="664.0" r="4.0" fill="#fff" stroke="#dc1a1f" stroke-width="2.5"/><circle cx="787.3" cy="664.0" r="7.2" fill="#fff"/><circle cx="787.3" cy="664.0" r="4.0" fill="#fff" stroke="#dc1a1f" stroke-width="2.5"/><circle cx="1052.9" cy="664.0" r="7.2" fill="#fff"/><circle cx="1052.9" cy="664.0" r="4.0" fill="#fff" stroke="#dc1a1f" stroke-width="2.5"/><circle cx="1149.0" cy="491.8" r="7.2" fill="#fff"/><circle cx="1149.0" cy="491.8" r="4.0" fill="#fff" stroke="#dc1a1f" stroke-width="2.5"/><circle cx="1414.1" cy="491.8" r="7.2" fill="#fff"/><circle cx="1414.1" cy="491.8" r="4.0" fill="#fff" stroke="#dc1a1f" stroke-width="2.5"/><circle cx="1152.5" cy="780.7" r="7.2" fill="#fff"/><circle cx="1152.5" cy="780.7" r="4.0" fill="#fff" stroke="#262626" stroke-width="2.5"/><circle cx="1417.2" cy="780.7" r="7.2" fill="#fff"/><circle cx="1417.2" cy="780.7" r="4.0" fill="#fff" stroke="#262626" stroke-width="2.5"/><circle cx="1583.0" cy="434.6" r="7.2" fill="#fff"/><circle cx="1583.0" cy="434.6" r="4.0" fill="#fff" stroke="#262626" stroke-width="2.5"/><circle cx="1583.0" cy="587.6" r="7.2" fill="#fff"/><circle cx="1583.0" cy="587.6" r="4.0" fill="#fff" stroke="#262626" stroke-width="2.5"/><circle cx="1583.0" cy="740.6" r="7.2" fill="#fff"/><circle cx="1583.0" cy="740.6" r="4.0" fill="#fff" stroke="#262626" stroke-width="2.5"/><circle cx="1583.0" cy="893.6" r="7.2" fill="#fff"/><circle cx="1583.0" cy="893.6" r="4.0" fill="#fff" stroke="#262626" stroke-width="2.5"/></g></svg></div>
<div class="abs" style="left:15px;top:781px;width:26px;height:162px;background:#fff;box-shadow:0 0 2px 1px rgba(0,0,0,0.08)">
<svg width="26" height="162" viewBox="0 0 26 162" style="display:block">
<g stroke="#eeeeee" stroke-width="1"><path d="M0 27.5H26M0 54.5H26M0 81.5H26M0 108.5H26M0 135.5H26"/></g>
<path d="M13 8V20M7 14H19" stroke="#111" stroke-width="1.6"/>
<path d="M7.5 40.5H18.5" stroke="#111" stroke-width="1.6"/>
<path d="M8.2 66V63.2H11M15 63.2H17.8V66M17.8 70V72.8H15M11 72.8H8.2V70" stroke="#111" stroke-width="1.5" fill="none"/>
<rect x="8.4" y="92.6" width="9.2" height="8.2" rx="1.2" fill="#111"/>
<path d="M10.4 92.8V91A2.7 2.7 0 0 1 15.6 90" stroke="#111" stroke-width="1.4" fill="none"/>
<rect x="12.1" y="95.8" width="1.8" height="1.8" fill="#fff"/>
<path d="M16.6 118.6A4.6 4.6 0 1 1 13.4 117" stroke="#111" stroke-width="1.3" fill="none"/>
<path d="M12.6 114.4L15.6 116.9L12.4 118.9Z" fill="#111"/>
<g transform="translate(0 1.5)"><path d="M9 147.6A4.6 4.6 0 0 1 17.2 144.6M17 148.4A4.6 4.6 0 0 1 8.8 151.4" stroke="#111" stroke-width="1.4" fill="none"/>
<path d="M15.3 143.2L18.2 142.2L17.9 145.6Z M10.7 152.8L7.8 153.8L8.1 150.4Z" fill="#111"/></g>
</svg></div>
<div class="abs" style="left:1852px;top:891px;width:48px;height:48px;border-radius:50%;background:#3bbfc6;box-shadow:0 1px 6px rgba(0,0,0,.06),0 2px 28px rgba(0,0,0,.14)">
<svg width="48" height="48" viewBox="0 0 48 48" style="display:block"><path d="M13.5 15Q13.5 11.8 16.7 11.8H31.5Q34.7 11.8 34.7 15V35.9L30.5 33.5H16.7Q13.5 33.5 13.5 30.3Z" fill="#fff"/><path d="M16.3 27.4Q23.9 33 31.5 27.4" stroke="#3bbfc6" stroke-width="1.5" fill="none" stroke-linecap="round"/></svg>
</div>

</body></html>
